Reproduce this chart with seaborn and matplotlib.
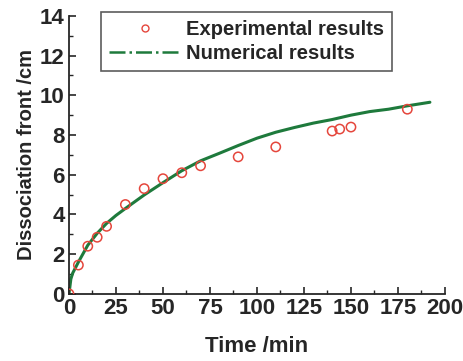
import pandas as pd
import matplotlib
matplotlib.use("Agg")
import matplotlib.pyplot as plt
import seaborn as sns
from matplotlib.lines import Line2D
from matplotlib.ticker import MultipleLocator

exp_time = [0, 5, 10, 15, 20, 30, 40, 50, 60, 70, 90, 110, 140, 144, 150, 180]
exp_front = [0.0, 1.45, 2.4, 2.85, 3.4, 4.5, 5.3, 5.8, 6.1, 6.45, 6.9, 7.4, 8.2, 8.3, 8.4, 9.3]

num_time = [0, 1, 2, 5, 10, 15, 20, 25, 30, 40, 50, 60, 70, 80, 90, 100,
            110, 120, 130, 140, 150, 160, 170, 180, 192]
num_front = [0.0, 0.75, 1.05, 1.6, 2.45, 3.05, 3.55, 3.95, 4.3, 4.98, 5.6, 6.2,
             6.7, 7.08, 7.47, 7.84, 8.14, 8.38, 8.6, 8.78, 9.0, 9.18, 9.3, 9.47, 9.65]

exp = pd.DataFrame({"t": exp_time, "d": exp_front})
num = pd.DataFrame({"t": num_time, "d": num_front})

sns.set_style("ticks")
plt.rcParams["font.family"] = ["Liberation Sans", "DejaVu Sans"]
plt.rcParams["font.weight"] = "bold"

red = "#e5463c"
green = "#1e7a3c"

fig = plt.figure(figsize=(4.63, 3.61), dpi=100)
ax = fig.add_axes([0.149, 0.186, 0.812, 0.770])

sns.lineplot(data=num, x="t", y="d", color=green, linewidth=2.2, ax=ax)
sns.scatterplot(data=exp, x="t", y="d", marker="o", s=45, facecolor="none",
                edgecolor=red, linewidth=1.1, ax=ax, zorder=3)

ax.set_xlim(0, 200)
ax.set_ylim(0, 14)
ax.xaxis.set_major_locator(MultipleLocator(25))
ax.xaxis.set_minor_locator(MultipleLocator(12.5))
ax.yaxis.set_major_locator(MultipleLocator(2))
ax.yaxis.set_minor_locator(MultipleLocator(1))
ax.tick_params(which="major", direction="in", length=5, width=1.2, labelsize=16, pad=3)
ax.tick_params(which="minor", direction="in", length=3, width=1)
for lab in ax.get_xticklabels() + ax.get_yticklabels():
    lab.set_fontweight("bold")
sns.despine(ax=ax)
for sp in ax.spines.values():
    sp.set_linewidth(1.3)

ax.set_xlabel("Time /min", fontsize=16, fontweight="bold", labelpad=12)
ax.set_ylabel("Dissociation front /cm", fontsize=14.5, fontweight="bold", labelpad=3)

handles = [
    Line2D([], [], linestyle="none", marker="o", markerfacecolor="none",
           markeredgecolor=red, markersize=5),
    Line2D([], [], color=green, linestyle="-.", linewidth=1.8),
]
leg = ax.legend(handles, ["Experimental results", "Numerical results"],
                loc="upper left", bbox_to_anchor=(0.085, 1.014), borderaxespad=0,
                frameon=True, fancybox=False, edgecolor="#333333",
                handlelength=3.6, handletextpad=0.2, borderpad=0.4,
                labelspacing=0.25, prop={"weight": "bold", "size": 14.5})
leg.get_frame().set_linewidth(1.2)

fig.savefig("out.png", dpi=100)
